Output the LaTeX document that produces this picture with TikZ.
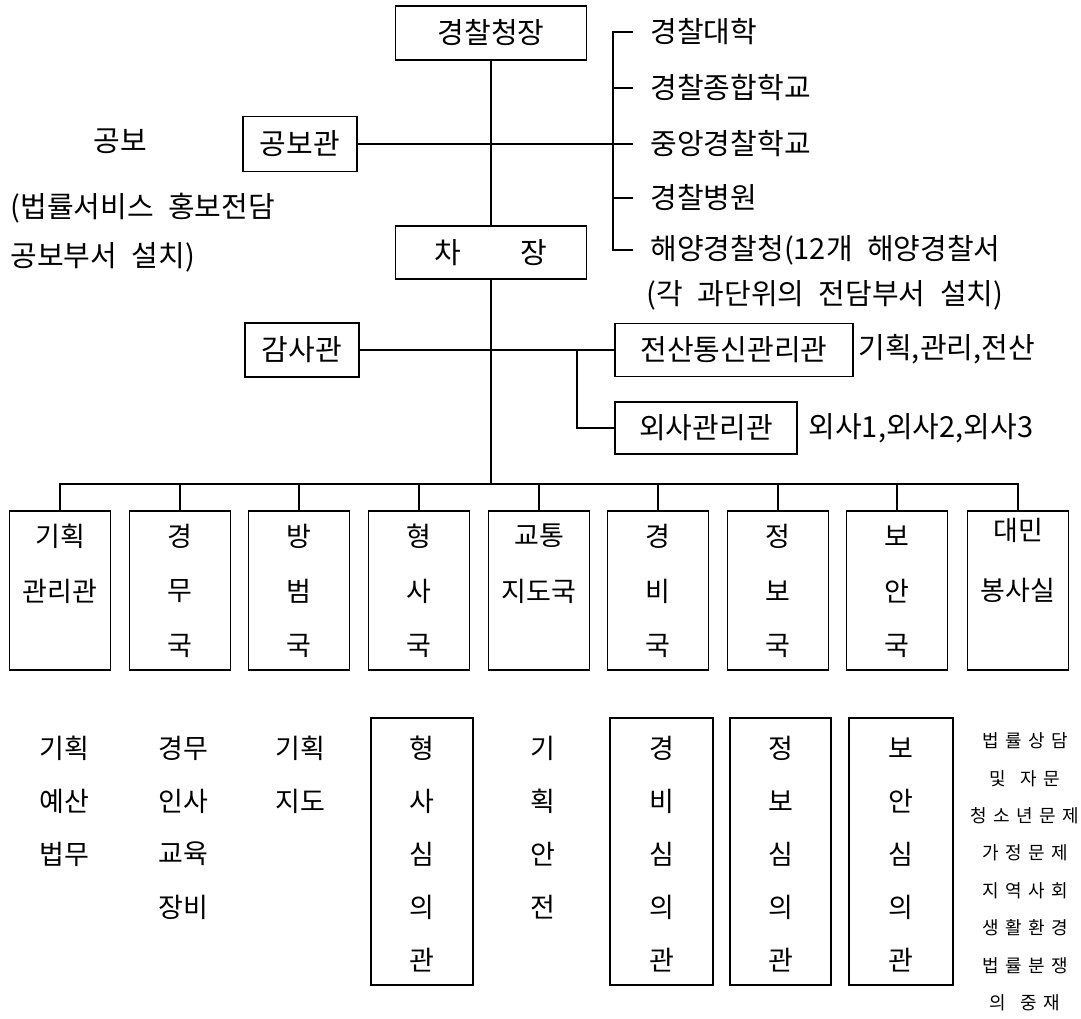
\documentclass[tikz,border=0pt]{standalone}
\usepackage{fontspec}
\setmainfont{Noto Sans CJK KR}
\newcommand\gp{\hspace{0.5em}}
\newcommand\kk{\hspace{6.5pt}}
\newcommand\mkcol[5]{\foreach \c [count=\i] in {#5} {\node[#4] (#1\i) at (#2,{#3+(\i-1)*53}) {\c};}}
\begin{document}
\begin{tikzpicture}[x=1pt,y=-1pt,line width=1.2pt,
  lbl/.style={font=\fontsize{29}{32}\selectfont, inner sep=0pt},
  box/.style={draw, rectangle, inner sep=0pt, font=\fontsize{29}{32}\selectfont},
  col/.style={draw, rectangle, inner sep=0pt, minimum width=101pt, minimum height=159pt},
  tall/.style={draw, rectangle, inner sep=0pt, minimum height=267pt},
  vt/.style={font=\fontsize{27}{30}\selectfont, inner sep=0pt},
  sm/.style={font=\fontsize{18}{20}\selectfont, inner sep=0pt}]
\useasboundingbox (0,0) rectangle (1081,1018);

% top
\node[box, minimum width=191pt, minimum height=54pt] (chief) at (491,33) {경찰청장};
\node[box, minimum width=114pt, minimum height=55pt] (gongbo) at (300,144) {공보관};
\node[box, minimum width=191pt, minimum height=53pt] (cha) at (491,252.5) {차\hspace{60pt}장};

\node[lbl] (t1) at (120,141) {공보};
\node[lbl, anchor=west] (t2) at (10,208) {(법률서비스\gp 홍보전담};
\node[lbl, anchor=west] (t3) at (10,257) {공보부서\gp 설치)};

\node[lbl, anchor=west] (u1) at (650,32) {경찰대학};
\node[lbl, anchor=west] (u2) at (650,88) {경찰종합학교};
\node[lbl, anchor=west] (u3) at (650,144) {중앙경찰학교};
\node[lbl, anchor=west] (u4) at (650,198) {경찰병원};
\node[lbl, anchor=west] (u5) at (650,250) {해양경찰청(12개\gp 해양경찰서};
\node[lbl] (note) at (825,295) {(각\gp 과단위의\gp 전담부서\gp 설치)};
\coordinate (brx) at (613,0);

% middle
\node[box, minimum width=114pt, minimum height=54pt] (gamsa) at (302,350) {감사관};
\node[box, minimum width=238pt, minimum height=53pt] (jeon) at (734,350) {전산통신관리관};
\node[box, minimum width=182pt, minimum height=52pt] (oesa) at (706,428) {외사관리관};
\node[lbl, anchor=west] (jeonx) at (858,349) {기획,관리,전산};
\node[lbl, anchor=west] (oesax) at (808,428) {외사1,외사2,외사3};
\coordinate (br2) at (577,350);
\coordinate (bus) at (491,484);

% bureau boxes
\foreach \n/\x in {1/60,2/180,3/299,4/419,5/539,6/658,7/778,8/897,9/1018}
  \node[col] (b\n) at (\x,590.5) {};
\node[vt] (b1t1) at (60,536) {기획};
\node[vt] (b1t2) at (60,591) {관리관};
\node[vt] (b5t1) at (539,536) {교통};
\node[vt] (b5t2) at (539,591) {지도국};
\node[vt] (b9t1) at (1018,530) {대민};
\node[vt] (b9t2) at (1018,590) {봉사실};
\foreach \n/\x/\a/\b in {2/180/경/무,3/299/방/범,4/419/형/사,6/658/경/비,7/778/정/보,8/897/보/안}{
  \node[vt] (b\n r1) at (\x,536) {\a};
  \node[vt] (b\n r2) at (\x,591) {\b};
  \node[vt] (b\n r3) at (\x,646) {국};
}

% lower section
\mkcol{ca}{64}{748}{vt}{기획,예산,법무}
\mkcol{cb}{183}{748}{vt}{경무,인사,교육,장비}
\mkcol{cc}{300}{748}{vt}{기획,지도}
\node[tall, minimum width=102pt] (hs) at (422,851.5) {};
\mkcol{hst}{422}{748}{vt}{형,사,심,의,관}
\mkcol{ka}{543}{748}{vt}{기,획,안,전}
\node[tall, minimum width=103pt] (gb) at (661.5,851.5) {};
\mkcol{gbt}{661.5}{748}{vt}{경,비,심,의,관}
\node[tall, minimum width=101pt] (jb) at (780.5,851.5) {};
\mkcol{jbt}{780.5}{748}{vt}{정,보,심,의,관}
\node[tall, minimum width=104pt] (ba) at (901,851.5) {};
\mkcol{bat}{901}{748}{vt}{보,안,심,의,관}
\foreach \t [count=\i] in {법\kk 률\kk 상\kk 담,및\kk\hspace{8pt}자\kk 문,청\kk 소\kk 년\kk 문\kk 제,가\kk 정\kk 문\kk 제,지\kk 역\kk 사\kk 회,생\kk 활\kk 환\kk 경,법\kk 률\kk 분\kk 쟁,의\kk\hspace{8pt}중\kk 재}
  \node[sm] (r\i) at (1025,{741+(\i-1)*37.4}) {\t};

% connectors
\draw (chief.south) -- (cha.north);
\draw (cha.south) -- (bus);
\draw (gongbo.east) -- (gongbo.east -| brx);
\draw ([xshift=-17pt]u1.west) -- (u1.west -| brx) -- (u5.west -| brx) -- ([xshift=-17pt]u5.west);
\foreach \k in {2,3,4} \draw (u\k.west -| brx) -- ([xshift=-17pt]u\k.west);
\draw (gamsa.east) -- (jeon.west);
\draw (br2) |- (oesa.west);
\draw (b1.north) |- (bus) -| (b9.north);
\foreach \k in {2,...,8} \draw (b\k.north) -- (b\k.north |- bus);
\end{tikzpicture}
\end{document}
